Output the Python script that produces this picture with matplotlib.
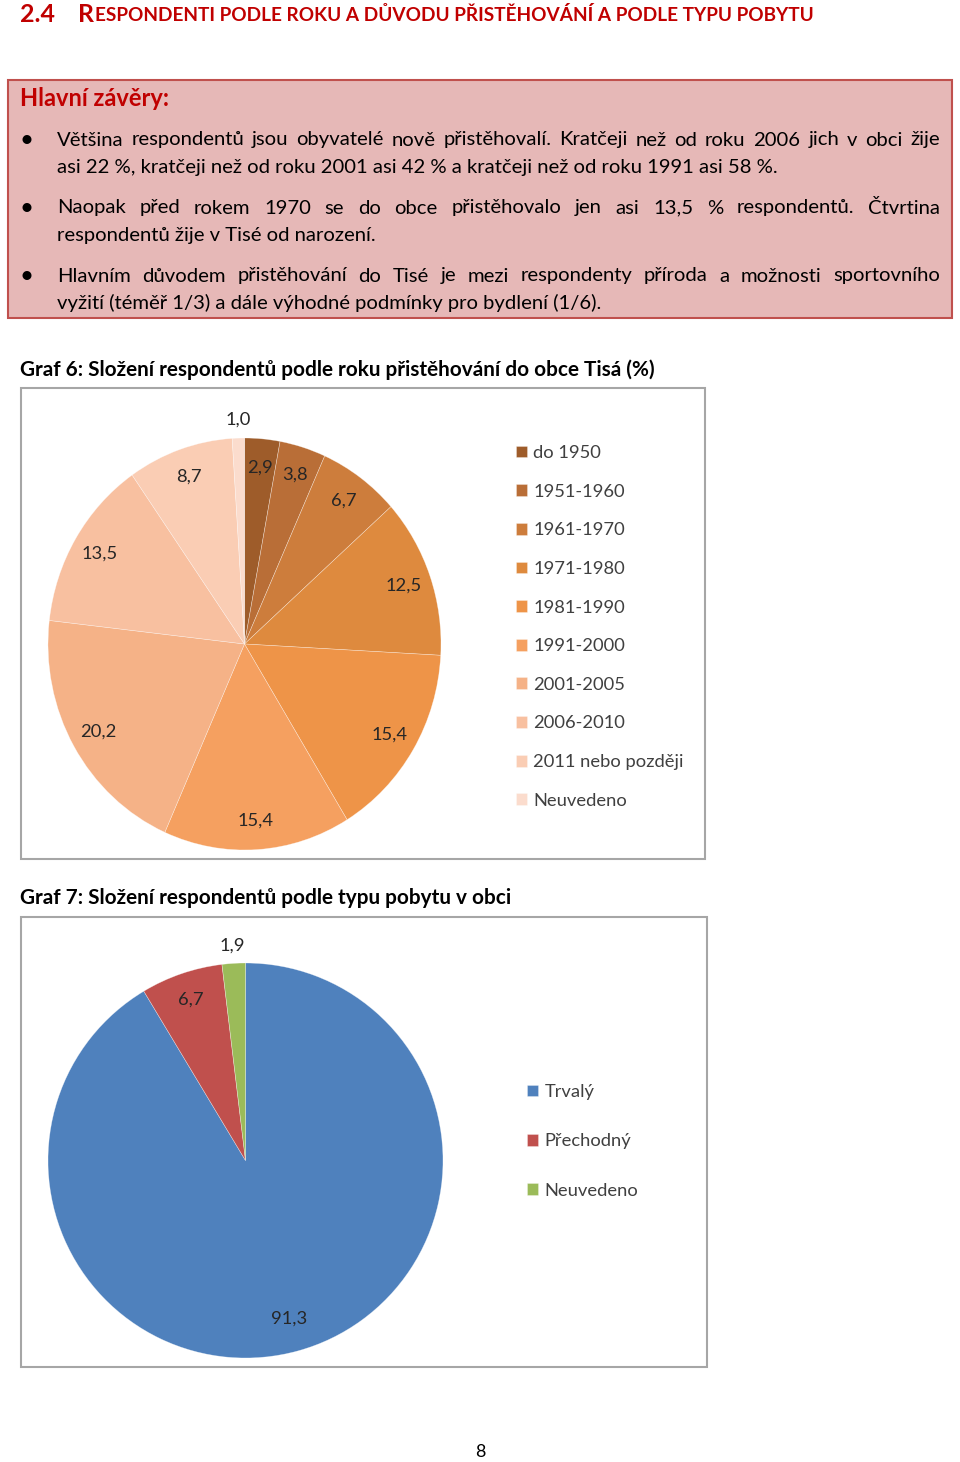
import matplotlib
matplotlib.use("Agg")
import matplotlib.pyplot as plt
from matplotlib.patches import Rectangle
import numpy as np

W, H = 960, 1462
plt.rcParams['font.family'] = ['Lato', 'DejaVu Sans']

# --- data ---
roky_labels = ["do 1950", "1951-1960", "1961-1970", "1971-1980", "1981-1990",
               "1991-2000", "2001-2005", "2006-2010", "2011 nebo později", "Neuvedeno"]
roky_values = [2.9, 3.8, 6.7, 12.5, 15.4, 15.4, 20.2, 13.5, 8.7, 1.0]
roky_colors = ["#9e5c2a", "#b96e37", "#cd7d3c", "#de8a3e", "#ee9448",
               "#f5a060", "#f5b287", "#f8c0a0", "#facdb4", "#fbdccd"]

pobyt_labels = ["Trvalý", "Přechodný", "Neuvedeno"]
pobyt_values = [91.3, 6.7, 1.9]
pobyt_colors = ["#4f81bd", "#c0504d", "#9bbb59"]

heading_num = "2.4"
heading_text = "RESPONDENTI PODLE ROKU A DŮVODU PŘISTĚHOVÁNÍ A PODLE TYPU POBYTU"
box_title = "Hlavní závěry:"
bullets = [
    ["Většina respondentů jsou obyvatelé nově přistěhovalí. Kratčeji než od roku 2006 jich v obci žije",
     "asi 22 %, kratčeji než od roku 2001 asi 42 % a kratčeji než od roku 1991 asi 58 %."],
    ["Naopak před rokem 1970 se do obce přistěhovalo jen asi 13,5 % respondentů. Čtvrtina",
     "respondentů žije v Tisé od narození."],
    ["Hlavním důvodem přistěhování do Tisé je mezi respondenty příroda a možnosti sportovního",
     "vyžití (téměř 1/3) a dále výhodné podmínky pro bydlení (1/6)."],
]
graf6_title = "Graf 6: Složení respondentů podle roku přistěhování do obce Tisá (%)"
graf7_title = "Graf 7: Složení respondentů podle typu pobytu v obci"

RED = "#c00000"

fig = plt.figure(figsize=(W / 100, H / 100), dpi=100)
renderer = fig.canvas.get_renderer()


def fx(x):
    return x / W


def fy(y):
    return 1 - y / H


def width_of(t):
    return t.get_window_extent(renderer).width


def fit_size(s, target, **kw):
    t = fig.text(0, 0, s, fontsize=10, **kw)
    w = width_of(t)
    t.remove()
    return 10 * target / w


def justify(line, x0, x1, y, size, **kw):
    words = line.split(" ")
    texts = [fig.text(0, fy(y), w, fontsize=size, va="center", **kw) for w in words]
    widths = [width_of(t) for t in texts]
    gap = (x1 - x0 - sum(widths)) / (len(words) - 1)
    x = x0
    for t, w in zip(texts, widths):
        t.set_x(fx(x))
        x += w + gap


# --- heading ---
hs = fit_size(heading_num, 35, weight="bold")
fig.text(fx(20), fy(14), heading_num, fontsize=hs, color=RED, weight="bold", va="center")
tR = fig.text(fx(78), fy(14), heading_text[0], fontsize=hs, color=RED, weight="bold", va="center")
wR = width_of(tR)
ss = fit_size(heading_text[1:], 815 - 78 - wR - 1, weight="bold")
fig.text(fx(78 + wR + 1), fy(15), heading_text[1:], fontsize=ss, color=RED, weight="bold", va="center")

# --- pink box ---
fig.patches.append(Rectangle((fx(8), fy(318)), fx(944), 238 / H, transform=fig.transFigure,
                             facecolor="#e6b8b7", edgecolor="#c0504d", linewidth=1.5))
fig.text(fx(20), fy(98), box_title, fontsize=hs * 0.95, color=RED, weight="bold", va="center")

bs = fit_size(bullets[0][1], 781 - 57)
ys = [140, 208, 276]
for (l1, l2), y in zip(bullets, ys):
    fig.text(fx(19), fy(y), "•", fontsize=bs * 1.2, color="black", va="center")
    justify(l1, 57, 940, y, bs, color="black")
    fig.text(fx(57), fy(y + 27), l2, fontsize=bs, color="black", va="center")

# --- chart titles ---
ts = fit_size(graf6_title, 639, weight="bold")
fig.text(fx(20), fy(370), graf6_title, fontsize=ts, weight="bold", va="center")
fig.text(fx(20), fy(898), graf7_title, fontsize=ts, weight="bold", va="center")

# chart frames
for (x0, y0, x1, y1) in [(21, 388, 705, 859), (21, 917, 707, 1367)]:
    fig.patches.append(Rectangle((fx(x0), fy(y1)), (x1 - x0) / W, (y1 - y0) / H,
                                 transform=fig.transFigure, facecolor="none",
                                 edgecolor="#a6a6a6", linewidth=1.5))

LABEL = 13.2
TXT = "#262626"
LEG = "#404040"


def draw_pie(box, values, colors, labels, leg_anchor, leg_spacing):
    x0, y0, x1, y1 = box
    ax = fig.add_axes([fx(x0), fy(y1), (x1 - x0) / W, (y1 - y0) / H])
    wedges, _ = ax.pie(values, colors=colors, startangle=90, counterclock=False,
                       radius=1, wedgeprops=dict(edgecolor=(1, 1, 1, 0.5), linewidth=0.4))
    ax.set_aspect("auto")
    ax.set_xlim(-1, 1)
    ax.set_ylim(-1, 1)
    for wdg, v in zip(wedges, values):
        ang = np.deg2rad((wdg.theta1 + wdg.theta2) / 2)
        r = 1.09 if v < 2 else 0.86
        if v > 50:
            r = 0.83
        ax.text(r * np.cos(ang), r * np.sin(ang), f"{v:.1f}".replace(".", ","),
                ha="center", va="center", fontsize=LABEL, color=TXT)
    fig.legend(wedges, labels, loc="upper left", bbox_to_anchor=(fx(leg_anchor[0]), fy(leg_anchor[1])),
               frameon=False, fontsize=LABEL, labelcolor=LEG, borderpad=0, borderaxespad=0,
               handlelength=0.62, handleheight=0.62, handletextpad=0.33, labelspacing=leg_spacing)
    return ax


draw_pie((48, 438, 441, 850), roky_values, roky_colors, roky_labels, (516, 445), 1.235)
draw_pie((48, 963, 443, 1358), pobyt_values, pobyt_colors, pobyt_labels, (527, 1084), 1.82)

fig.text(fx(480), fy(1452), "8", fontsize=13, ha="center", va="center")

fig.savefig("out.png", dpi=100)
